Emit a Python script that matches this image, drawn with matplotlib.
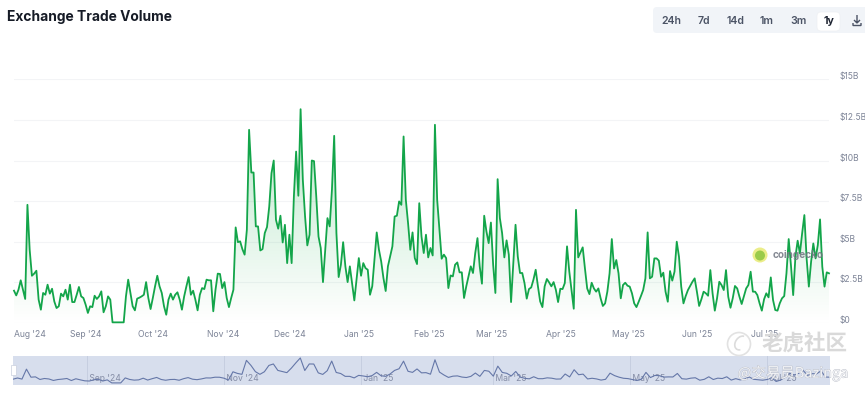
# -*- coding: utf-8 -*-
"""Exchange trade volume chart, 1y view with navigator strip."""

import matplotlib

matplotlib.use("Agg")

import matplotlib.dates as mdates
import matplotlib.patheffects as pe
import matplotlib.pyplot as plt
import numpy as np
import pandas as pd
from matplotlib.colors import LinearSegmentedColormap
from matplotlib.patches import Arc, Circle, FancyBboxPatch, PathPatch, Rectangle
from matplotlib.path import Path as MplPath
from matplotlib.transforms import ScaledTranslation

WIDTH_PX = 865
HEIGHT_PX = 394
DPI = 100

START_DATE = "2024-07-30"

# daily volume in $B
VOLUME_B = [
    1.99, 1.70, 2.05, 2.63, 2.05, 1.48, 7.28, 4.51, 2.91, 3.04, 3.22, 1.44, 0.82, 1.85, 1.74, 2.36,
    1.81, 2.11, 1.33, 0.92, 1.03, 1.81, 1.64, 2.05, 1.44, 2.36, 1.29, 1.29, 1.74, 2.22, 1.64, 1.54,
    1.13, 0.62, 1.03, 0.98, 1.68, 1.48, 1.64, 1.95, 0.66, 1.03, 1.64, 1.44, 0.04, 0.04, 0.04, 0.04,
    0.04, 0.04, 1.64, 2.67, 1.85, 1.03, 0.78, 1.50, 1.56, 1.64, 1.74, 2.52, 1.54, 0.86, 1.54, 2.26,
    2.91, 2.26, 1.85, 1.03, 0.51, 1.44, 1.81, 1.44, 1.74, 1.89, 1.44, 0.82, 1.64, 2.26, 2.83, 1.74,
    1.99, 1.44, 0.78, 1.74, 2.15, 2.09, 2.67, 2.63, 2.63, 0.72, 2.05, 3.04, 3.02, 2.15, 2.52, 1.54,
    0.98, 1.54, 2.05, 5.89, 4.98, 5.03, 4.55, 4.21, 5.74, 11.90, 9.27, 9.27, 5.95, 5.95, 4.47, 4.55,
    5.54, 5.91, 7.18, 9.23, 10.01, 6.36, 5.81, 6.61, 4.96, 6.05, 3.69, 5.44, 3.69, 7.79, 10.56, 7.84,
    13.17, 8.82, 6.56, 4.78, 5.44, 10.01, 9.97, 7.79, 5.33, 4.62, 2.52, 4.51, 6.46, 5.95, 8.21, 11.53,
    5.54, 2.83, 3.59, 4.98, 3.49, 2.52, 3.49, 2.46, 1.39, 2.67, 4.00, 2.91, 3.69, 3.38, 3.28, 1.74,
    2.26, 3.90, 5.58, 4.51, 3.79, 2.77, 1.97, 3.49, 4.10, 4.72, 6.56, 6.61, 7.49, 7.28, 11.49, 7.59,
    6.15, 4.51, 5.58, 4.00, 3.63, 7.38, 5.33, 4.31, 5.44, 4.04, 4.62, 4.16, 12.21, 7.59, 5.74, 3.96,
    4.21, 4.00, 2.15, 2.93, 2.87, 3.59, 3.73, 3.12, 3.12, 1.54, 2.26, 2.87, 3.49, 3.08, 4.31, 5.23,
    3.49, 2.42, 6.61, 5.64, 4.92, 6.19, 3.59, 1.85, 8.86, 6.46, 5.54, 4.04, 5.09, 4.21, 1.29, 3.69,
    6.05, 4.10, 3.08, 3.08, 2.46, 1.50, 2.09, 2.19, 2.67, 3.28, 2.26, 1.33, 0.98, 2.26, 2.71, 2.50,
    2.26, 2.52, 2.05, 1.29, 2.11, 2.09, 2.46, 4.72, 3.18, 2.05, 0.88, 6.97, 4.04, 4.35, 4.66, 3.36,
    2.13, 1.78, 2.48, 2.13, 1.93, 2.13, 1.52, 1.05, 1.21, 1.93, 3.06, 5.17, 3.36, 3.88, 3.06, 1.52,
    2.34, 2.48, 2.30, 2.24, 1.83, 1.21, 0.98, 1.31, 1.66, 2.03, 2.75, 5.58, 2.75, 2.85, 3.98, 3.98,
    3.84, 2.85, 3.10, 1.93, 1.31, 3.20, 2.61, 3.16, 5.01, 4.08, 2.24, 1.21, 1.66, 2.03, 2.28, 2.54,
    2.75, 1.93, 1.05, 1.46, 1.93, 1.83, 1.68, 3.26, 1.83, 0.76, 1.52, 2.54, 2.34, 2.03, 3.26, 1.62,
    0.94, 1.52, 2.28, 2.13, 1.62, 1.17, 1.66, 2.13, 2.34, 3.16, 1.93, 1.93, 1.72, 1.21, 0.76, 1.46,
    1.83, 1.58, 2.81, 1.42, 0.80, 0.76, 1.21, 1.52, 1.66, 3.06, 5.17, 3.57, 1.72, 4.08, 5.07, 4.29,
    5.52, 6.65, 3.98, 2.24, 3.77, 4.90, 3.98, 4.80, 6.38, 3.47, 2.24, 3.12, 3.06,
]

Y_TICKS = [0, 2.5, 5, 7.5, 10, 12.5, 15]
Y_LABELS = ["$0", "$2.5B", "$5B", "$7.5B", "$10B", "$12.5B", "$15B"]

MONTH_DATES = [
    "2024-08-01", "2024-09-01", "2024-10-01", "2024-11-01", "2024-12-01", "2025-01-01",
    "2025-02-01", "2025-03-01", "2025-04-01", "2025-05-01", "2025-06-01", "2025-07-01",
]
MONTH_LABELS = [
    "Aug '24", "Sep '24", "Oct '24", "Nov '24", "Dec '24", "Jan '25",
    "Feb '25", "Mar '25", "Apr '25", "May '25", "Jun '25", "Jul '25",
]
NAV_DATES = ["2024-09-01", "2024-11-01", "2025-01-01", "2025-03-01", "2025-05-01", "2025-07-01"]
NAV_LABELS = ["Sep '24", "Nov '24", "Jan '25", "Mar '25", "May '25", "Jul '25"]

RANGE_LABELS = ["24h", "7d", "14d", "1m", "3m", "1y"]
RANGE_X_PX = [671.5, 704, 735.5, 767, 799, 828.5]

GREEN = "#13a54a"
GREY_TEXT = "#7d8497"
FONT = "Inter"


def px_axes(fig, left, right, top, bottom):
    return fig.add_axes(
        [
            left / WIDTH_PX,
            (HEIGHT_PX - bottom) / HEIGHT_PX,
            (right - left) / WIDTH_PX,
            (bottom - top) / HEIGHT_PX,
        ]
    )


def draw_main(fig, dates, volume):
    ax = px_axes(fig, 14, 829, 79.5, 323)
    ax.set_xlim(dates[0], dates[-1])
    ax.set_ylim(0, 15)
    ax.patch.set_alpha(0)
    for spine in ax.spines.values():
        spine.set_visible(False)

    ax.set_yticks(Y_TICKS)
    ax.set_yticklabels(Y_LABELS)
    ax.yaxis.tick_right()
    ax.tick_params(axis="y", length=0, pad=7.5, labelsize=6.1, labelcolor=GREY_TEXT)
    ax.tick_params(axis="x", length=0, bottom=False, labelbottom=False)
    ax.grid(True, axis="y", color="#f3f4f6", linewidth=0.8)
    ax.set_axisbelow(True)

    # labels sit a little above their gridlines
    lift = ScaledTranslation(0, 3.5 / DPI, fig.dpi_scale_trans)
    for label in ax.get_yticklabels():
        label.set_transform(label.get_transform() + lift)

    # green fade under the line
    cmap = LinearSegmentedColormap.from_list(
        "fade", [(0.0, 0.66, 0.24, 0.0), (0.0, 0.66, 0.24, 0.28)]
    )
    gradient = np.linspace(1, 0, 256).reshape(-1, 1)
    x0, x1 = mdates.date2num(dates[0]), mdates.date2num(dates[-1])
    image = ax.imshow(
        gradient,
        extent=[x0, x1, 0, max(volume)],
        aspect="auto",
        cmap=cmap,
        vmin=0,
        vmax=1,
        zorder=1,
    )
    fill = ax.fill_between(dates, volume, 0, color="none", zorder=1)
    clip = PathPatch(fill.get_paths()[0], transform=ax.transData, facecolor="none", edgecolor="none")
    ax.add_patch(clip)
    image.set_clip_path(clip)
    ax.set_xlim(dates[0], dates[-1])
    ax.set_ylim(0, 15)

    ax.plot(dates, volume, color=GREEN, linewidth=1.3, solid_joinstyle="round", zorder=3, clip_on=False)

    for day, label in zip(MONTH_DATES, MONTH_LABELS):
        # first label gets pushed right so it stays inside the plot
        pos = pd.Timestamp(day)
        ha = "left" if label == "Aug '24" else "center"
        ax.annotate(
            label,
            xy=(mdates.date2num(dates[0]) if ha == "left" else mdates.date2num(pos), 0),
            xytext=(0 if ha == "left" else -1.2, -8),
            textcoords="offset points",
            ha=ha,
            va="center",
            fontsize=6.2,
            color=GREY_TEXT,
            family=FONT,
            annotation_clip=False,
        )


def draw_navigator(fig, dates, volume):
    ax = px_axes(fig, 13, 830, 356, 384.5)
    ax.set_xlim(dates[0], dates[-1])
    ax.set_ylim(-0.8, 14.2)
    ax.set_facecolor("#d7deed")
    ax.set_xticks([])
    ax.set_yticks([])
    for spine in ax.spines.values():
        spine.set_visible(False)

    for day, label in zip(NAV_DATES, NAV_LABELS):
        pos = pd.Timestamp(day)
        ax.axvline(pos, color="#c6cee0", linewidth=0.7, zorder=1)
        ax.text(pos, 0.2, " " + label, ha="left", va="bottom", fontsize=6.2, color="#858da6", family=FONT, zorder=2)

    # navigator shows grouped data, so each 2 day group keeps its high
    grouped = pd.Series(volume, index=dates).resample("2D").max()
    ax.plot(grouped.index, grouped.to_numpy(), color="#6577a8", linewidth=0.8, zorder=3)


def draw_chrome(fig):
    ax = fig.add_axes([0, 0, 1, 1])
    ax.set_xlim(0, WIDTH_PX)
    ax.set_ylim(HEIGHT_PX, 0)
    ax.axis("off")
    ax.patch.set_alpha(0)

    ax.text(7, 17, "Exchange Trade Volume", fontsize=9.95, fontweight="bold", color="#161b26",
            family=FONT, va="center", ha="left")

    ax.add_patch(FancyBboxPatch((653, 7), 216, 26, boxstyle="round,pad=0,rounding_size=4",
                                facecolor="#f1f4f8", edgecolor="none"))
    ax.add_patch(FancyBboxPatch((817, 12), 23, 19, boxstyle="round,pad=0,rounding_size=4",
                                facecolor="white", edgecolor="#eef0f3", linewidth=0.5))
    for xpos, label in zip(RANGE_X_PX, RANGE_LABELS):
        ax.text(xpos, 21, label, fontsize=7.6, fontweight="bold" if label == "1y" else "semibold",
                color="#1f2533" if label == "1y" else "#4b5365",
                family=FONT, ha="center", va="center")

    # download icon
    icon = MplPath(
        [(857, 15), (857, 23), (854, 20), (857, 23), (860, 20), (853, 23), (853, 25.5), (861, 25.5), (861, 23)],
        [1, 2, 1, 2, 2, 1, 2, 2, 2],
    )
    ax.add_patch(PathPatch(icon, facecolor="none", edgecolor="#4b5365", linewidth=1))

    # navigator handle
    ax.add_patch(Rectangle((10.5, 365), 5, 10, facecolor="white", edgecolor="#c9cfdd", linewidth=0.5, zorder=5))

    # coingecko mark
    ax.add_patch(Circle((760, 255), 7.5, facecolor="#e9ec7c", edgecolor="none", alpha=0.9, zorder=4))
    ax.add_patch(Circle((760, 255.5), 5, facecolor="#8cc63f", edgecolor="none", alpha=0.85, zorder=4))
    ax.text(773, 255, "coingecko", fontsize=7.2, fontweight="bold", color="#6f7480", alpha=0.85,
            family=FONT, va="center", ha="left", zorder=4)

    # site watermark
    ax.add_patch(Circle((739, 344), 11.5, facecolor="none", edgecolor="#e2e2e2", linewidth=1.2, zorder=6))
    ax.add_patch(Arc((741, 343), 11, 15, angle=35, theta1=60, theta2=260, edgecolor="#dcdcdc", linewidth=1.2, zorder=6))
    ax.text(805, 344, "老虎社区", fontsize=15.5, fontweight="bold", color="#d9d9d9",
            family=["Noto Sans CJK SC", "DejaVu Sans"], ha="center", va="center", zorder=6)
    ax.text(848, 373, "@交易员Bazinga", fontsize=10.4, color="#f2f3f6",
            family=["Noto Sans CJK SC", "DejaVu Sans"], ha="right", va="center", zorder=6,
            path_effects=[pe.withStroke(linewidth=0.5, foreground="#b4b8c2")])


def main():
    plt.rcParams["font.family"] = [FONT, "DejaVu Sans"]
    volume = np.array(VOLUME_B, dtype=float)
    dates = pd.date_range(START_DATE, periods=len(volume), freq="D")

    fig = plt.figure(figsize=(WIDTH_PX / DPI, HEIGHT_PX / DPI), dpi=DPI, facecolor="white")
    draw_main(fig, dates, volume)
    draw_navigator(fig, dates, volume)
    draw_chrome(fig)
    fig.savefig("out.png", dpi=DPI, facecolor="white")
    plt.close(fig)


if __name__ == "__main__":
    main()
